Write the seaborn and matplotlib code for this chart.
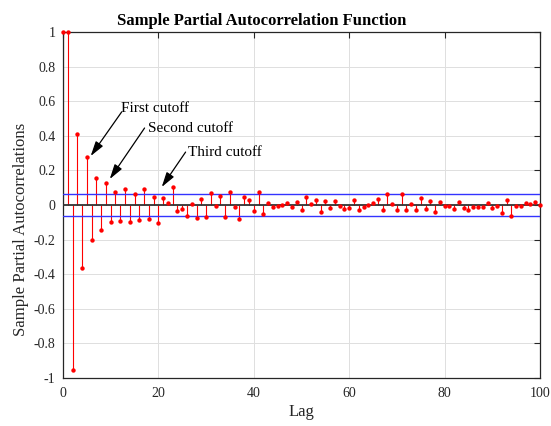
import numpy as np
import pandas as pd
import matplotlib
matplotlib.use("Agg")
import matplotlib.pyplot as plt
import seaborn as sns

lags = list(range(0, 101))
pacf = [
    1.000, 1.000, -0.956, 0.413, -0.362, 0.275, -0.200, 0.158, -0.146, 0.127,
    -0.100, 0.077, -0.094, 0.092, -0.098, 0.063, -0.087, 0.092, -0.083, 0.048,
    -0.106, 0.038, 0.010, 0.103, -0.033, -0.025, -0.062, 0.004, -0.075, 0.033,
    -0.067, 0.067, -0.004, 0.054, -0.069, 0.073, -0.012, -0.081, 0.046, 0.027,
    -0.037, 0.073, -0.054, 0.013, -0.012, -0.004, -0.001, 0.013, -0.010, 0.017,
    -0.027, 0.046, 0.006, 0.029, -0.039, 0.023, -0.017, 0.021, -0.006, -0.025,
    -0.015, 0.031, -0.027, -0.010, 0.000, 0.012, 0.033, -0.031, 0.064, 0.008,
    -0.027, 0.064, -0.027, 0.007, -0.028, 0.039, -0.025, 0.025, -0.040, 0.017,
    -0.008, -0.004, -0.025, 0.015, -0.017, -0.031, -0.012, -0.012, -0.012, 0.010,
    -0.015, -0.006, -0.044, 0.027, -0.066, -0.006, -0.004, 0.010, 0.004, 0.015,
    -0.002,
]
bound = 0.065
x_ticks = [0, 20, 40, 60, 80, 100]
y_ticks = [-1, -0.8, -0.6, -0.4, -0.2, 0, 0.2, 0.4, 0.6, 0.8, 1]
y_tick_labels = ["-1", "-0.8", "-0.6", "-0.4", "-0.2", "0", "0.2", "0.4", "0.6", "0.8", "1"]

# annotations: (text, text_x, text_y, head_x, head_y, tail_x, tail_y)
notes = [
    ("First cutoff", 12.2, 0.555, 5.8, 0.283, 12.3, 0.538),
    ("Second cutoff", 17.9, 0.44, 9.8, 0.150, 17.1, 0.445),
    ("Third cutoff", 26.3, 0.306, 20.7, 0.104, 25.7, 0.306),
]

df = pd.DataFrame({"Lag": lags, "PACF": pacf})

sns.set_theme(style="whitegrid")
plt.rcParams["font.family"] = ["Liberation Serif", "DejaVu Serif"]

fig = plt.figure(figsize=(5.51, 4.26), dpi=100)
ax = fig.add_axes([63 / 551, 48 / 426, 477 / 551, 346 / 426])

axc = "#262626"
ax.set_facecolor("white")
ax.grid(True, color="#dfdfdf", linewidth=0.7)
ax.set_axisbelow(True)

# stems
ax.vlines(df["Lag"], 0, df["PACF"], color="#ff0000", linewidth=0.8, zorder=2)
# zero line
ax.axhline(0, color="#333333", linewidth=1.3, zorder=3)
# bounds
ax.axhline(bound, color="#3333ff", linewidth=1.0, zorder=3)
ax.axhline(-bound, color="#3333ff", linewidth=1.0, zorder=3)
# markers
sns.scatterplot(data=df, x="Lag", y="PACF", ax=ax, color="#ff0000", s=10,
                edgecolor="#ff0000", linewidth=0, zorder=4, clip_on=False, legend=False)

for txt, tx, ty, hx, hy, sx, sy in notes:
    ax.annotate("", xy=(hx, hy), xytext=(sx, sy),
                arrowprops=dict(arrowstyle="-|>,head_length=0.75,head_width=0.22",
                                color="black", linewidth=0.9, shrinkA=0, shrinkB=0),
                zorder=5)
    ax.text(tx, ty, txt, fontsize=11, ha="left", va="center", color="black", zorder=5)

ax.set_xlim(0, 100)
ax.set_ylim(-1, 1)
ax.set_xticks(x_ticks)
ax.set_yticks(y_ticks)
ax.set_yticklabels(y_tick_labels)
ax.tick_params(axis="both", direction="in", length=4, width=0.8, color=axc,
               labelcolor=axc, labelsize=10, top=True, right=True)
ax.tick_params(axis="x", pad=6.5)
ax.tick_params(axis="y", pad=5.5)
for s in ax.spines.values():
    s.set_visible(True)
    s.set_color(axc)
    s.set_linewidth(0.9)

ax.set_xlabel("Lag", fontsize=12, color=axc, labelpad=3)
ax.set_ylabel("Sample Partial Autocorrelations", fontsize=12.1, color=axc, labelpad=3)
ax.yaxis.label.set_y(0.429)
ax.set_title("Sample Partial Autocorrelation Function", fontsize=12,
             fontweight="bold", color="black", pad=5)
ax.title.set_x(0.417)

fig.savefig("out.png", dpi=100)
